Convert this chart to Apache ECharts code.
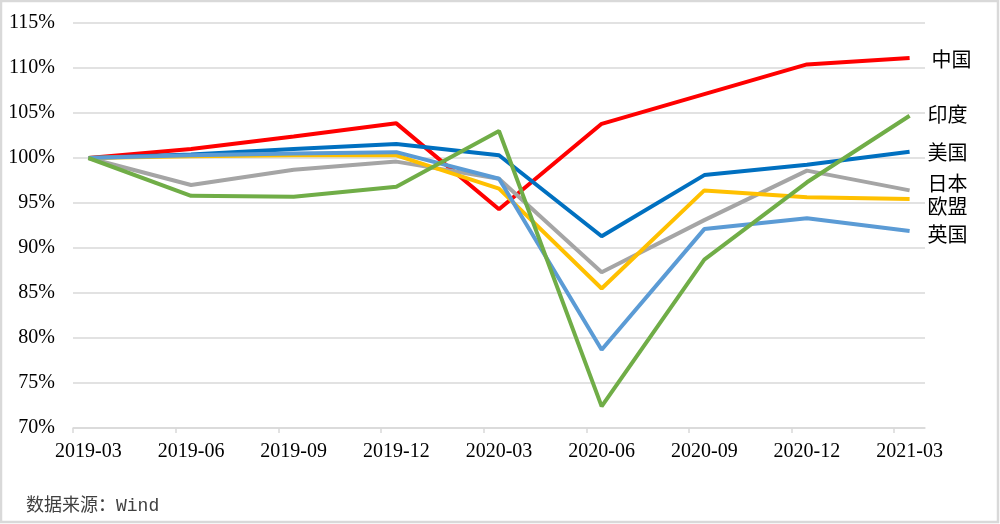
<!DOCTYPE html>
<html>
<head>
<meta charset="utf-8">
<script src="https://cdn.jsdelivr.net/npm/echarts@6/dist/echarts.min.js"></script>
<style>
html,body{margin:0;padding:0;background:#fff;}
#chart{width:1000px;height:524px;}
</style>
</head>
<body>
<div id="chart"></div>
<script>
var categories = ['2019-03','2019-06','2019-09','2019-12','2020-03','2020-06','2020-09','2020-12','2021-03'];
var yTicks = [70, 75, 80, 85, 90, 95, 100, 105, 110, 115];
var china = [100, 101.0, 102.4, 103.85, 94.3, 103.8, 107.1, 110.4, 111.1];
var usa   = [100, 100.4, 101.0, 101.55, 100.3, 91.3, 98.1, 99.25, 100.7];
var japan = [100, 97.0, 98.7, 99.6, 97.7, 87.3, 93.1, 98.6, 96.4];
var eu    = [100, 100.2, 100.3, 100.3, 96.6, 85.5, 96.4, 95.65, 95.45];
var uk    = [100, 100.3, 100.5, 100.65, 97.7, 78.7, 92.1, 93.3, 91.9];
var india = [100, 95.8, 95.7, 96.8, 103.0, 72.4, 88.7, 97.3, 104.7];
var seriesNames = ['中国','美国','日本','欧盟','英国','印度'];
var sourceText = '数据来源：Wind';

var seriesData = [china, usa, japan, eu, uk, india];
var colors = ['#FF0000','#0070C0','#A5A5A5','#FFC000','#5B9BD5','#70AD47'];
var labelOffsets = [[4,1],[0,1],[0,-7],[0,7],[0,4],[0,-1]];

function pairs(arr){ return arr.map(function(v,i){ return [i, v]; }); }

var chart = echarts.init(document.getElementById('chart'));
chart.setOption({
  backgroundColor: '#fff',
  animation: false,
  grid: { left: 73, right: 75, top: 23, bottom: 96, containLabel: false },
  xAxis: {
    type: 'value',
    min: -0.15,
    max: categories.length - 1 + 0.15,
    axisLine: { show: true, lineStyle: { color: '#d9d9d9', width: 1.5 } },
    axisTick: {
      show: true, length: 5, lineStyle: { color: '#d9d9d9', width: 1.5 },
      customValues: categories.map(function(c,i){ return i - 0.15; })
    },
    axisLabel: {
      customValues: categories.map(function(c,i){ return i; }),
      formatter: function(v){ return categories[Math.round(v)] || ''; },
      color: '#000', fontFamily: 'Liberation Serif', fontSize: 20, margin: 14
    },
    splitLine: { show: false }
  },
  yAxis: {
    type: 'value',
    min: yTicks[0], max: yTicks[yTicks.length-1], interval: 5,
    axisLine: { show: false }, axisTick: { show: false },
    axisLabel: { formatter: '{value}%', color: '#000', fontFamily: 'Liberation Serif', fontSize: 20, margin: 18 },
    splitLine: { lineStyle: { color: '#d9d9d9', width: 1.5 } }
  },
  series: seriesNames.map(function(name, k){
    return {
      name: name, type: 'line', data: pairs(seriesData[k]),
      showSymbol: false, symbol: 'none',
      lineStyle: { color: colors[k], width: 4 },
      itemStyle: { color: colors[k] },
      z: 2 + k,
      endLabel: {
        show: true, formatter: '{a}', distance: 18, offset: labelOffsets[k],
        color: '#000', fontSize: 20, fontFamily: 'Noto Sans CJK SC'
      }
    };
  }),
  graphic: [
    { type: 'rect', shape: { x: 1, y: 1, width: 997, height: 521 }, style: { fill: 'none', stroke: '#d9d9d9', lineWidth: 2.5 }, silent: true },
    { type: 'text', left: 26, top: 497, style: { text: sourceText, fill: '#404040', fontSize: 18, fontFamily: "'Liberation Mono', 'Noto Sans CJK SC'" } }
  ]
});
</script>
</body>
</html>
